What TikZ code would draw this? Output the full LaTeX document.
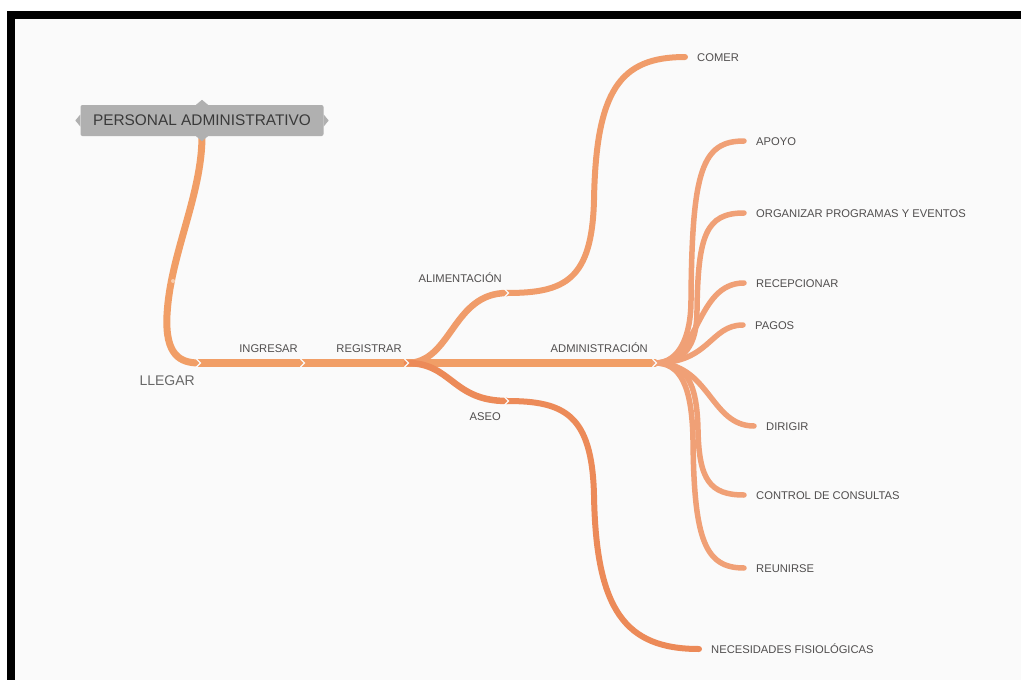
\documentclass[tikz,border=0pt]{standalone}
\usepackage{fontspec}
\setmainfont{Liberation Sans}
\definecolor{mmbg}{RGB}{250,250,250}
\definecolor{mmroot}{RGB}{176,176,176}
\definecolor{mmroottext}{RGB}{58,58,58}
\definecolor{mmtext}{RGB}{80,78,78}
\definecolor{mmsoft}{RGB}{104,104,104}
\definecolor{mmtrunk}{RGB}{241,158,102}
\definecolor{mmali}{RGB}{240,156,106}
\definecolor{mmase}{RGB}{236,138,88}
\definecolor{mmfan}{RGB}{240,160,118}
\definecolor{mmdot}{RGB}{247,204,172}

\begin{document}
\begin{tikzpicture}[x=1pt, y=-1pt,
    topic/.style={rectangle, fill=mmroot, rounded corners=2pt, minimum width=243pt,
                  minimum height=31pt, inner sep=0pt, text=mmroottext,
                  font=\fontsize{15.4}{17}\selectfont},
    lbl/.style={inner sep=0pt, text height=8pt, text depth=0pt, text=mmtext,
                font=\fontsize{11.2}{13}\selectfont},
    leaf/.style={lbl, anchor=west},
    seglbl/.style={lbl, anchor=south east, xshift=-5pt, yshift=10.5pt},
    trunk/.style={line width=7.5pt, line cap=round, draw=mmtrunk},
    twig/.style={line width=5.5pt, line cap=round, draw=mmfan},
    notch/.style={draw=mmbg, line width=1.3pt}
  ]
    \useasboundingbox (0,0) rectangle (1021,680);
    \fill[black] (7,11) rectangle (1021,680);
    \fill[mmbg] (15,19) rectangle (1021,680);

    % junctions along the main line
    \coordinate (llegar) at (199,363);
    \coordinate (ing)    at (303,363);
    \coordinate (reg)    at (407,363);
    \coordinate (ali)    at (507,293);
    \coordinate (ase)    at (507,401);
    \coordinate (adm)    at (655,363);

    \node[topic] (pa) at (202,120.5) {PERSONAL ADMINISTRATIVO};

    % leaves
    \node[leaf] (comer)       at (697,57)  {COMER};
    \node[leaf] (apoyo)       at (756,141) {APOYO};
    \node[leaf] (organizar)   at (756,213) {ORGANIZAR PROGRAMAS Y EVENTOS};
    \node[leaf] (recepcionar) at (756,283) {RECEPCIONAR};
    \node[leaf] (pagos)       at (755,325) {PAGOS};
    \node[leaf] (dirigir)     at (766,426) {DIRIGIR};
    \node[leaf] (control)     at (756,495) {CONTROL DE CONSULTAS};
    \node[leaf] (reunirse)    at (756,568) {REUNIRSE};
    \node[leaf] (necesidades) at (711,649) {NECESIDADES FISIOL\'OGICAS};

    % root down to LLEGAR
    \draw[trunk, line width=7pt, line cap=butt] (pa.south)
        .. controls (202,195) and (170,255) .. (167,315)
        .. controls (165,355) and (180,363) .. (llegar);
    \fill[mmdot] (173,281) circle (2);

    \draw[trunk] (llegar) -- (ing);
    \draw[trunk] (ing) -- (reg);
    \draw[trunk] (reg) -- (adm);
    \draw[trunk, line width=6.5pt, draw=mmali] (reg) .. controls (452,363) and (452,293) .. (ali);
    \draw[trunk, line width=6.5pt, draw=mmase] (reg) .. controls (452,363) and (452,401) .. (ase);

    \draw[twig, line width=6pt, draw=mmali] (ali)
        .. controls (565,293) and (592,280) .. (594,200)
        .. controls (596,90) and (620,57) .. ([xshift=-12pt]comer.west);
    \draw[twig, line width=6pt, draw=mmase] (ase)
        .. controls (565,401) and (592,415) .. (594,495)
        .. controls (596,610) and (625,649) .. ([xshift=-12pt]necesidades.west);

    % fan out of ADMINISTRACION
    \draw[twig] (adm) .. controls (680,363) and (691,335) .. (691,300)
        .. controls (692,170) and (702,141) .. ([xshift=-12pt]apoyo.west);
    \draw[twig] (adm) .. controls (685,363) and (697,345) .. (697,310)
        .. controls (698,235) and (706,213) .. ([xshift=-12pt]organizar.west);
    \draw[twig] (adm) .. controls (700,363) and (695,283) .. ([xshift=-12pt]recepcionar.west);
    \draw[twig] (adm) .. controls (710,363) and (710,325) .. ([xshift=-12pt]pagos.west);
    \draw[twig] (adm) .. controls (710,363) and (710,426) .. ([xshift=-12pt]dirigir.west);
    \draw[twig] (adm) .. controls (685,363) and (697,380) .. (698,430)
        .. controls (699,480) and (710,495) .. ([xshift=-12pt]control.west);
    \draw[twig] (adm) .. controls (680,363) and (692,385) .. (693,440)
        .. controls (694,540) and (705,568) .. ([xshift=-12pt]reunirse.west);

    \foreach \j in {llegar,ing,reg,ali,ase,adm}
      \draw[notch] ([shift={(-2.5,-4)}]\j) -- ([shift={(1.5,0)}]\j) -- ([shift={(-2.5,4)}]\j);

    % small points on the root box
    \fill[mmroot] (pa.west) ++(0,-6) -- ++(-5,6) -- ++(5,6) -- cycle;
    \fill[mmroot] (pa.east) ++(0,-6) -- ++(5,6) -- ++(-5,6) -- cycle;
    \fill[mmroot] (pa.north) ++(-6,0) -- ++(6,-5) -- ++(6,5) -- cycle;
    \fill[mmroot] (pa.south) ++(-6,0) -- ++(6,5) -- ++(6,-5) -- cycle;

    \node[seglbl] (ingtxt) at (ing) {INGRESAR};
    \node[seglbl] (regtxt) at (reg) {REGISTRAR};
    \node[seglbl] (alitxt) at (ali) {ALIMENTACI\'ON};
    \node[seglbl, xshift=-2pt] (admtxt) at (adm) {ADMINISTRACI\'ON};
    \node[lbl, anchor=north east, xshift=-6pt, yshift=-11pt] (asetxt) at (ase) {ASEO};
    \node[lbl, anchor=north east, xshift=-4pt, yshift=-12pt, text height=10pt,
          text=mmsoft, font=\fontsize{14}{16}\selectfont] (llegartxt) at (llegar) {LLEGAR};
\end{tikzpicture}
\end{document}
